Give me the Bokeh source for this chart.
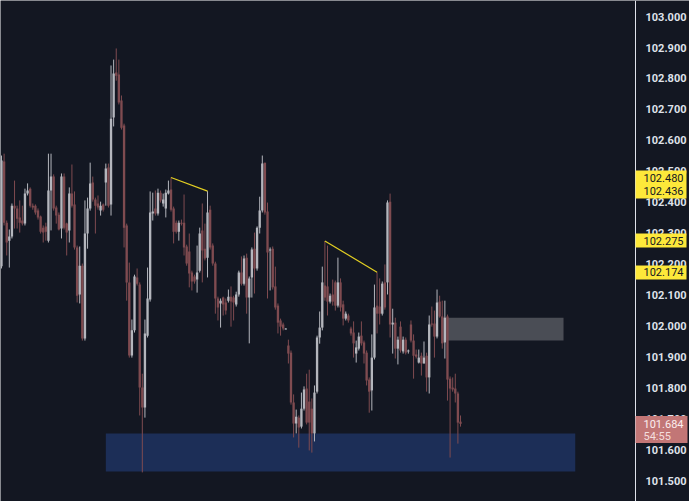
import numpy as np
from bokeh.plotting import figure
from bokeh.models import Range1d, LinearAxis, FixedTicker, NumeralTickFormatter, ColumnDataSource
from bokeh.embed import file_html
from bokeh.resources import INLINE

# 1-minute OHLC bars, oldest first
opens = [
    102.193, 102.532, 102.334, 102.276, 102.289, 102.389, 102.380, 102.351, 102.341, 102.331,
    102.428, 102.444, 102.389, 102.389, 102.373, 102.354, 102.318, 102.322, 102.276, 102.438,
    102.483, 102.383, 102.360, 102.315, 102.483, 102.331, 102.309, 102.428, 102.393, 102.254,
    102.102, 102.195, 101.960, 102.299, 102.380, 102.464, 102.409, 102.396, 102.373, 102.393,
    102.464, 102.512, 102.393, 102.674, 102.819, 102.813, 102.729, 102.648, 102.325, 102.141,
    101.905, 101.986, 102.157, 102.134, 101.801, 101.737, 101.969, 102.086, 102.364, 102.380,
    102.364, 102.431, 102.396, 102.380, 102.428, 102.441, 102.380, 102.334, 102.305, 102.334,
    102.334, 102.257, 102.241, 102.173, 102.160, 102.150, 102.179, 102.309, 102.250, 102.221,
    102.376, 102.260, 102.202, 102.089, 102.073, 102.092, 102.076, 102.082, 102.095, 102.092,
    102.070, 102.102, 102.173, 102.137, 102.221, 102.092, 102.157, 102.250, 102.186, 102.318,
    102.373, 102.528, 102.370, 102.244, 102.250, 102.128, 102.066, 102.018, 102.005, 101.990,
    101.937, 101.914, 101.753, 101.685, 101.704, 101.675, 101.733, 101.798, 101.756, 101.733,
    101.653, 101.788, 101.963, 101.995, 102.131, 102.128, 102.079, 102.102, 102.141, 102.066,
    102.141, 102.070, 102.024, 102.034, 101.992, 101.979, 101.911, 101.927, 101.969, 101.947,
    101.914, 101.827, 101.792, 101.898, 102.066, 102.063, 102.040, 102.141, 102.141, 102.402,
    102.005, 102.011, 101.927, 101.998, 101.918, 101.956, 101.918, 102.005, 101.953, 101.908,
    101.882, 101.904, 101.879, 101.904, 101.834, 102.008, 102.008, 101.966, 102.079, 102.031,
    101.947, 102.031, 101.830, 101.801, 101.798, 101.782, 101.691,
]
highs = [
    102.551, 102.557, 102.341, 102.312, 102.396, 102.470, 102.389, 102.406, 102.389, 102.444,
    102.461, 102.448, 102.396, 102.393, 102.380, 102.357, 102.325, 102.334, 102.557, 102.557,
    102.490, 102.389, 102.367, 102.493, 102.493, 102.334, 102.448, 102.522, 102.435, 102.260,
    102.257, 102.202, 102.406, 102.415, 102.528, 102.483, 102.415, 102.422, 102.402, 102.396,
    102.525, 102.525, 102.842, 102.861, 102.897, 102.861, 102.745, 102.654, 102.331, 102.205,
    102.021, 102.166, 102.186, 102.141, 101.846, 102.021, 102.189, 102.435, 102.431, 102.438,
    102.444, 102.438, 102.428, 102.441, 102.470, 102.480, 102.386, 102.341, 102.341, 102.344,
    102.425, 102.263, 102.299, 102.179, 102.166, 102.260, 102.318, 102.396, 102.331, 102.436,
    102.389, 102.267, 102.208, 102.095, 102.089, 102.095, 102.089, 102.118, 102.128, 102.098,
    102.111, 102.179, 102.225, 102.228, 102.234, 102.160, 102.254, 102.302, 102.322, 102.418,
    102.551, 102.528, 102.399, 102.254, 102.257, 102.192, 102.073, 102.024, 102.011, 101.993,
    101.956, 101.921, 101.779, 101.730, 101.711, 101.785, 101.805, 101.846, 101.859, 101.766,
    101.808, 101.969, 102.047, 102.192, 102.275, 102.260, 102.105, 102.150, 102.147, 102.221,
    102.154, 102.082, 102.047, 102.040, 101.998, 102.015, 101.953, 101.979, 102.015, 101.953,
    101.921, 101.834, 101.973, 102.134, 102.174, 102.154, 102.144, 102.199, 102.406, 102.428,
    102.056, 102.027, 101.966, 102.015, 101.966, 101.963, 101.924, 102.018, 101.973, 101.924,
    101.924, 101.914, 101.950, 101.914, 102.034, 102.063, 102.050, 102.118, 102.098, 102.082,
    102.082, 102.037, 101.837, 101.834, 101.846, 101.788, 101.711,
]
lows = [
    102.186, 102.325, 102.228, 102.189, 102.283, 102.315, 102.315, 102.302, 102.325, 102.325,
    102.422, 102.383, 102.376, 102.360, 102.344, 102.299, 102.270, 102.276, 102.270, 102.309,
    102.373, 102.331, 102.309, 102.283, 102.312, 102.228, 102.270, 102.383, 102.247, 102.076,
    102.073, 101.953, 101.953, 102.250, 102.373, 102.402, 102.299, 102.376, 102.357, 102.370,
    102.389, 102.383, 102.357, 102.645, 102.793, 102.716, 102.635, 102.254, 102.082, 101.898,
    101.898, 101.979, 102.131, 101.711, 101.527, 101.704, 101.963, 102.079, 102.341, 102.357,
    102.357, 102.399, 102.386, 102.351, 102.425, 102.370, 102.267, 102.299, 102.276, 102.325,
    102.228, 102.195, 102.125, 102.115, 102.137, 102.108, 102.173, 102.141, 102.212, 102.157,
    102.247, 102.195, 102.040, 102.018, 101.995, 102.034, 102.037, 102.076, 101.998, 102.018,
    102.063, 102.095, 102.131, 102.131, 102.040, 101.944, 102.092, 102.105, 102.179, 102.299,
    102.367, 102.360, 102.089, 102.115, 102.118, 102.053, 101.976, 101.969, 101.986, 101.989,
    101.879, 101.746, 101.640, 101.653, 101.607, 101.669, 101.727, 101.682, 101.598, 101.591,
    101.627, 101.782, 101.943, 101.986, 102.082, 102.034, 102.073, 102.066, 102.050, 102.060,
    102.047, 102.002, 102.018, 102.011, 101.969, 101.898, 101.882, 101.921, 101.937, 101.879,
    101.808, 101.720, 101.727, 101.892, 101.976, 102.005, 102.034, 102.053, 102.102, 101.963,
    101.911, 101.895, 101.876, 101.914, 101.911, 101.908, 101.911, 101.947, 101.830, 101.895,
    101.879, 101.840, 101.879, 101.788, 101.782, 101.998, 101.898, 101.960, 102.027, 101.927,
    101.895, 101.759, 101.575, 101.788, 101.753, 101.620, 101.675,
]
closes = [
    102.535, 102.334, 102.270, 102.289, 102.389, 102.380, 102.347, 102.334, 102.331, 102.428,
    102.438, 102.389, 102.383, 102.367, 102.351, 102.305, 102.302, 102.305, 102.438, 102.483,
    102.380, 102.357, 102.312, 102.483, 102.318, 102.302, 102.428, 102.389, 102.254, 102.098,
    102.195, 101.960, 102.299, 102.380, 102.461, 102.409, 102.389, 102.383, 102.389, 102.376,
    102.509, 102.389, 102.670, 102.816, 102.809, 102.722, 102.641, 102.318, 102.141, 101.905,
    101.986, 102.160, 102.137, 101.801, 101.737, 101.976, 102.089, 102.367, 102.370, 102.364,
    102.431, 102.406, 102.409, 102.431, 102.438, 102.376, 102.305, 102.305, 102.334, 102.331,
    102.254, 102.202, 102.170, 102.144, 102.144, 102.173, 102.299, 102.244, 102.218, 102.367,
    102.254, 102.202, 102.089, 102.060, 102.082, 102.070, 102.050, 102.095, 102.079, 102.076,
    102.102, 102.173, 102.137, 102.218, 102.092, 102.154, 102.247, 102.186, 102.318, 102.373,
    102.525, 102.367, 102.238, 102.247, 102.125, 102.060, 102.011, 101.998, 101.992, 101.992,
    101.911, 101.753, 101.685, 101.707, 101.672, 101.733, 101.795, 101.688, 101.688, 101.653,
    101.785, 101.963, 101.995, 102.141, 102.092, 102.079, 102.098, 102.079, 102.066, 102.141,
    102.060, 102.024, 102.040, 102.018, 101.976, 101.944, 101.931, 101.966, 101.944, 101.911,
    101.824, 101.788, 101.898, 102.060, 102.040, 102.040, 102.137, 102.060, 102.399, 102.005,
    102.011, 101.927, 101.956, 101.921, 101.956, 101.914, 101.921, 101.953, 101.904, 101.901,
    101.898, 101.879, 101.898, 101.834, 102.005, 102.005, 101.966, 102.076, 102.031, 101.944,
    102.027, 101.827, 101.798, 101.795, 101.782, 101.688, 101.684,
]

price_ticks = [101.5, 101.6, 101.7, 101.8, 101.9, 102.0, 102.1, 102.2, 102.3, 102.4,
               102.5, 102.6, 102.7, 102.8, 102.9, 103.0]

# zones: first bar index, last bar index, lower / upper price
demand_zone = dict(start=40, end=220, low=101.530, high=101.653)
supply_zone = dict(start=169.5, end=215.5, low=101.953, high=102.027)

# trend lines between two swing highs: (bar, price) pairs
trend_lines = [
    ((65, 102.480), (79, 102.436)),
    ((124, 102.275), (144, 102.174)),
]
line_prices = [102.480, 102.436, 102.275, 102.174]
last_price = closes[-1]
countdown = "54:55"

BG = "#131722"
UP = "#b4b6bd"
DOWN = "#7f4b50"
YELLOW = "#fde83a"
TAG_RED = "#c27676"

# the frame spans the whole canvas; the price scale sits at SCALE_X inside it
X_START, X_END = -0.38, 263.8
SCALE_X = 243.1
Y_START, Y_END = 101.433, 103.052
HEIGHT = 501
PX = (Y_END - Y_START) / HEIGHT   # price per screen pixel

n = len(closes)
idx = np.arange(n)
o = np.array(opens)
c = np.array(closes)
up = c >= o
body_top = np.maximum(o, c)
body_bot = np.minimum(o, c)
body_bot = np.where(body_top - body_bot < PX, body_top - PX, body_bot)
colors = np.where(up, UP, DOWN)

src = ColumnDataSource(dict(x=idx, high=highs, low=lows, top=body_top, bottom=body_bot, color=colors))

p = figure(width=689, height=HEIGHT, output_backend="svg", toolbar_location=None,
           x_range=Range1d(X_START, X_END), y_range=Range1d(Y_START, Y_END),
           x_axis_location=None, y_axis_location=None,
           min_border_left=0, min_border_right=0, min_border_top=0, min_border_bottom=0,
           background_fill_color=BG, border_fill_color=BG, outline_line_color=None)
p.grid.visible = False

# zones under the candles
p.quad(left=[demand_zone["start"]], right=[demand_zone["end"]],
       bottom=[demand_zone["low"]], top=[demand_zone["high"]],
       fill_color="#1c2e57", line_color=None)
p.quad(left=[supply_zone["start"]], right=[supply_zone["end"]],
       bottom=[supply_zone["low"]], top=[supply_zone["high"]],
       fill_color="#4a4d55", line_color=None)

# candles
p.segment(x0="x", y0="low", x1="x", y1="high", color="color", line_width=1, source=src)
p.vbar(x="x", width=0.9, top="top", bottom="bottom", fill_color="color", line_color=None, source=src)

# trend lines
for (x0, y0), (x1, y1) in trend_lines:
    p.segment(x0=[x0], y0=[y0], x1=[x1], y1=[y1], line_color="#e3cf22", line_width=1.2)

# price scale
axis = LinearAxis(fixed_location=SCALE_X,
                  ticker=FixedTicker(ticks=price_ticks, minor_ticks=[]),
                  formatter=NumeralTickFormatter(format="0.000"),
                  axis_line_color="#dfe2ea", axis_line_width=1,
                  major_tick_line_color=None, minor_tick_line_color=None,
                  major_tick_out=0, major_tick_in=0,
                  major_label_standoff=10,
                  major_label_text_color="#dfe2ea",
                  major_label_text_font="Roboto",
                  major_label_text_font_size="11px",
                  major_label_text_font_style="bold")
p.add_layout(axis, "right")


def price_tag(ticks, fill, thickness, length, text_color, overrides=None):
    """Scale tag: a thick tick forms the box, its label sits on top of it."""
    ax = LinearAxis(fixed_location=SCALE_X,
                    ticker=FixedTicker(ticks=ticks, minor_ticks=[]),
                    formatter=NumeralTickFormatter(format="0.000"),
                    axis_line_color=None, minor_tick_line_color=None,
                    major_tick_in=0, major_tick_out=length,
                    major_tick_line_color=fill, major_tick_line_width=thickness,
                    major_tick_line_cap="butt",
                    major_label_standoff=8 - length,
                    major_label_text_color=text_color,
                    major_label_text_font="Roboto",
                    major_label_text_font_size="11px")
    if overrides:
        ax.major_label_overrides = overrides
    p.add_layout(ax, "right")
    return ax


# yellow tags for the trend-line end prices
price_tag(line_prices, YELLOW, 14, 51, "#131722")

# last price tag with the bar countdown below it
box_center = last_price - 6 * PX
countdown_level = last_price - 13 * PX
price_tag([box_center], TAG_RED, 27, 52, None)
price_tag([last_price], TAG_RED, 0.01, 1, "#fbeeee")
price_tag([countdown_level], TAG_RED, 0.01, 1, "#f4dede", overrides={countdown_level: countdown})

open("out.html", "w").write(file_html(p, INLINE))
